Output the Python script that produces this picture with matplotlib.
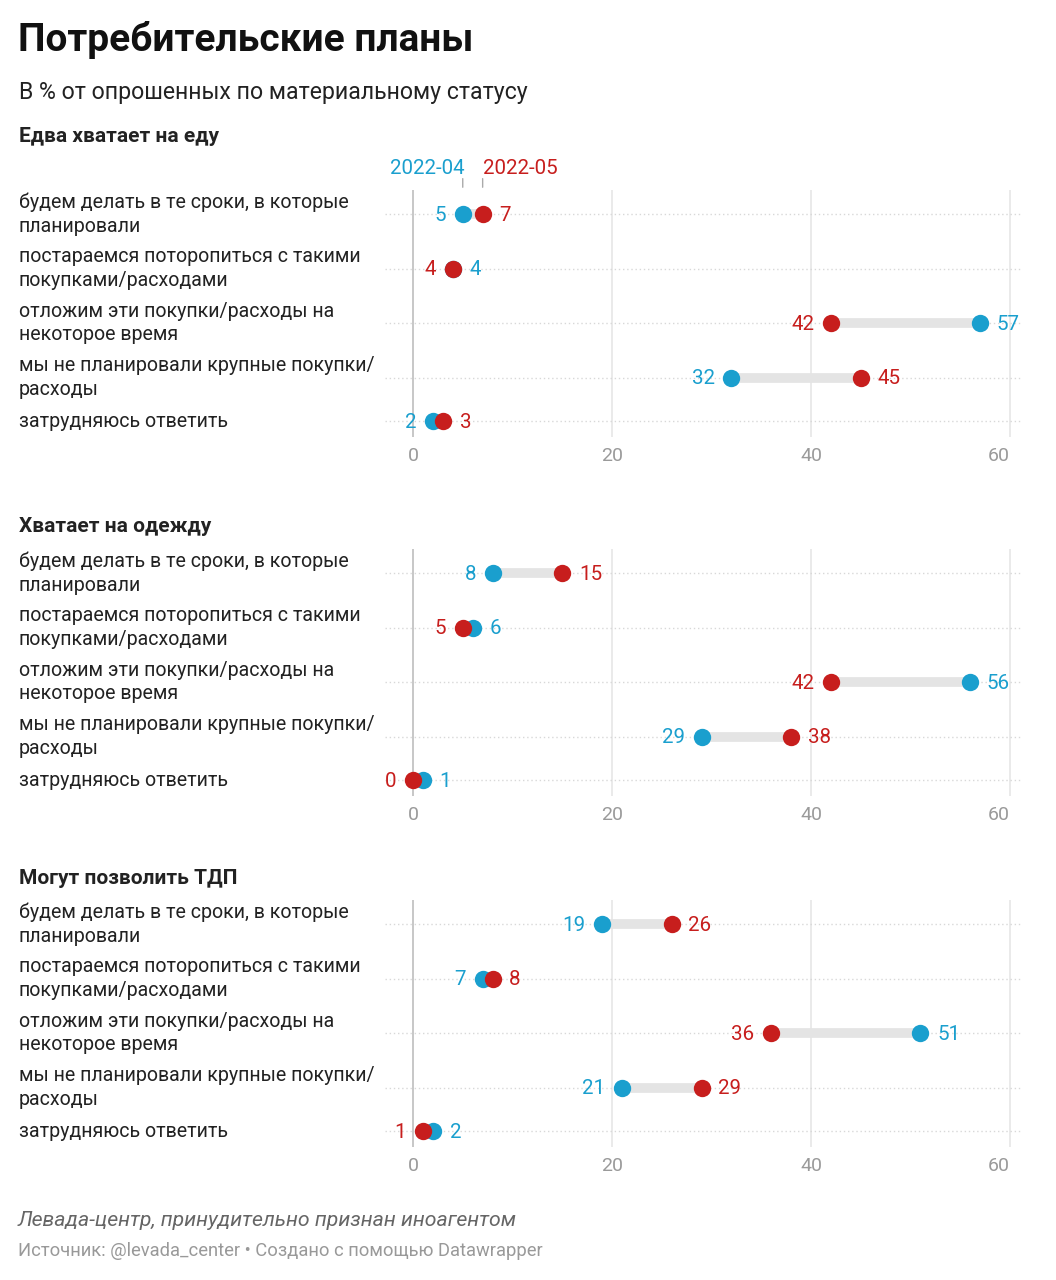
import matplotlib
matplotlib.use("Agg")
import matplotlib.pyplot as plt
import matplotlib.transforms as mtransforms

plt.rcParams['font.family'] = ['Roboto', 'DejaVu Sans']

BLUE = "#1a9fce"
RED = "#c71e1d"

# data
title = "Потребительские планы"
subtitle = "В % от опрошенных по материальному статусу"
answers = ["будем делать в те сроки, в которые\nпланировали",
           "постараемся поторопиться с такими\nпокупками/расходами",
           "отложим эти покупки/расходы на\nнекоторое время",
           "мы не планировали крупные покупки/\nрасходы",
           "затрудняюсь ответить"]
groups = ["Едва хватает на еду", "Хватает на одежду", "Могут позволить ТДП"]
apr_food = [5, 4, 57, 32, 2]
may_food = [7, 4, 42, 45, 3]
apr_clothes = [8, 6, 56, 29, 1]
may_clothes = [15, 5, 42, 38, 0]
apr_tdp = [19, 7, 51, 21, 2]
may_tdp = [26, 8, 36, 29, 1]
series_names = ["2022-04", "2022-05"]
ticks = [0, 20, 40, 60]

W, H = 1056, 1280
fig = plt.figure(figsize=(W / 100, H / 100), dpi=100)

def fx(px):
     return px / W

def fy(py):
     return 1 - py / H

fig.text(fx(18), fy(40), title, fontsize=28, fontweight='bold', va='center', color="#111111")
fig.text(fx(19), fy(93), subtitle, fontsize=16.7, va='center', color="#222222")

# row positions (last row is single line so sits closer)
rowpos = [0, 1, 2, 3, 3.8]
px_per_row = 54.5
row0_px = [214, 573, 924]
gtitle_px = [137, 527, 878]
x_left_px, x0_px, x60_px, x_right_px = 385, 413, 1010, 1022
upp = 60 / (x60_px - x0_px)

data = [(apr_food, may_food), (apr_clothes, may_clothes), (apr_tdp, may_tdp)]

for g in range(3):
     apr, may = data[g]
     top_px = row0_px[g] - 24
     bot_px = row0_px[g] + rowpos[-1] * px_per_row + 16
     ax = fig.add_axes([fx(x_left_px), fy(bot_px), fx(x_right_px - x_left_px), (bot_px - top_px) / H])
     ax.set_xlim(-(x0_px - x_left_px) * upp, 60 + (x_right_px - x60_px) * upp)
     ax.set_ylim(rowpos[-1] + 16 / px_per_row, -24 / px_per_row)
     for s in ax.spines.values():
          s.set_visible(False)
     ax.set_yticks([])
     ax.set_xticks(ticks)
     ax.tick_params(axis='x', length=0, pad=7, labelsize=14, labelcolor="#9a9a9a")
     ax.get_xticklabels()[-1].set_horizontalalignment('right')
     for t in ticks:
          ax.axvline(t, color="#bdbdbd" if t == 0 else "#e6e6e6", lw=1.2, zorder=0)
     for y in rowpos:
          ax.axhline(y, color="#d8d8d8", lw=1, ls=(0, (1, 2)), zorder=0)

     fig.text(fx(19), fy(gtitle_px[g]), groups[g], fontsize=15, fontweight='bold', va='center', color="#222222")

     trans = mtransforms.blended_transform_factory(fig.transFigure, ax.transData)
     for i, y in enumerate(rowpos):
          ax.text(fx(19), y, answers[i], transform=trans, fontsize=14.1, va='center', ha='left',
                  color="#222222", linespacing=1.32)
          a, m = apr[i], may[i]
          ax.plot([a, m], [y, y], color="#e4e4e4", lw=7, solid_capstyle='butt', zorder=1)
          ax.plot(a, y, 'o', color=BLUE, ms=12.5, mec='none', zorder=3)
          ax.plot(m, y, 'o', color=RED, ms=12.5, mec='none', zorder=4)
          if m <= a:
               left, lc, right, rc = m, RED, a, BLUE
          else:
               left, lc, right, rc = a, BLUE, m, RED
          ax.annotate(str(left), (left, y), xytext=(-12, -1), textcoords='offset points',
                      ha='right', va='center', fontsize=14.8, color=lc)
          ax.annotate(str(right), (right, y), xytext=(12, -1), textcoords='offset points',
                      ha='left', va='center', fontsize=14.8, color=rc)

     if g == 0:
          a, m = apr[0], may[0]
          ax.annotate(series_names[0], (a, rowpos[0]), xytext=(1, 33), textcoords='offset points',
                      ha='right', va='center', fontsize=14.8, color=BLUE, annotation_clip=False)
          ax.annotate(series_names[1], (m, rowpos[0]), xytext=(0, 33), textcoords='offset points',
                      ha='left', va='center', fontsize=14.8, color=RED, annotation_clip=False)
          ax.annotate("", (a, rowpos[0] - 0.44), xytext=(a, rowpos[0] - 0.7),
                      arrowprops=dict(arrowstyle='-', color="#aaaaaa", lw=1), annotation_clip=False)
          ax.annotate("", (m, rowpos[0] - 0.44), xytext=(m, rowpos[0] - 0.7),
                      arrowprops=dict(arrowstyle='-', color="#aaaaaa", lw=1), annotation_clip=False)

fig.text(fx(18), fy(1220), "Левада-центр, принудительно признан иноагентом", fontsize=15.3,
         style='italic', va='center', color="#666666")
fig.text(fx(18), fy(1251), "Источник: @levada_center • Создано с помощью Datawrapper", fontsize=13.2,
         va='center', color="#999999")

fig.savefig("out.png", dpi=100, facecolor="white")
